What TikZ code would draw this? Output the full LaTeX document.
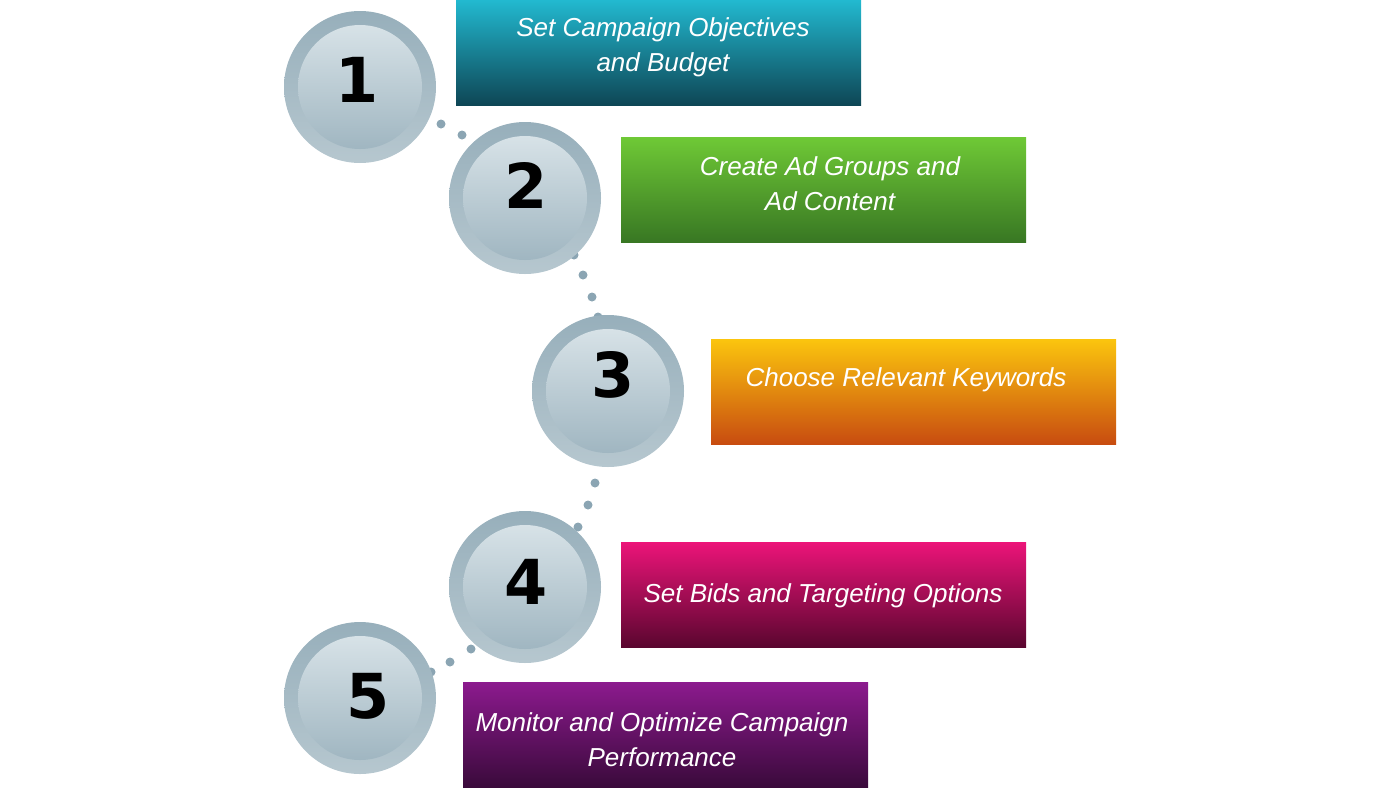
\documentclass[tikz,border=0pt]{standalone}
\usepackage{fontspec}
\setmainfont{Liberation Sans}
\newfontfamily\numfont{DejaVu Sans}
\definecolor{ringtop}{HTML}{97AFBB}
\definecolor{ringbot}{HTML}{B6C7CF}
\definecolor{disctop}{HTML}{D7E2E7}
\definecolor{discbot}{HTML}{A0B6C1}
\definecolor{dotc}{HTML}{8BA5B3}
\definecolor{tealT}{HTML}{22B9D0}
\definecolor{tealB}{HTML}{0E4655}
\definecolor{greenT}{HTML}{6FC936}
\definecolor{greenB}{HTML}{387723}
\definecolor{orangeT}{HTML}{FBC50E}
\definecolor{orangeB}{HTML}{C84C10}
\definecolor{pinkT}{HTML}{EC1479}
\definecolor{pinkB}{HTML}{5A062F}
\definecolor{purpT}{HTML}{8C1A8E}
\definecolor{purpB}{HTML}{3A0A3B}
\tikzset{
  ring/.style={circle, minimum size=152pt, inner sep=0pt, top color=ringtop, bottom color=ringbot, draw=none},
  disc/.style={circle, minimum size=124pt, inner sep=0pt, top color=disctop, bottom color=discbot, draw=none},
  digit/.style={font=\numfont\bfseries\fontsize{62}{62}\selectfont, text=black, inner sep=0pt},
  stepbox/.style={rectangle, minimum width=405pt, minimum height=105pt, inner sep=0pt, draw=none},
  label/.style={font=\itshape\fontsize{26}{35}\selectfont, text=white, align=center, inner sep=0pt},
  dot/.style={fill=dotc}
}
\begin{document}
\begin{tikzpicture}[x=1pt,y=-1pt]
\useasboundingbox (0,0) rectangle (1400,788);
% dots
\foreach \px/\py in {441/124, 462/135, 574/255, 583/275, 592/297, 598/317, 595/483, 588/505, 578/527, 471/649, 450/662, 431/672}
  \fill[dot] (\px,\py) circle (4.5);
% circles
\node[ring] (r1) at (360,87) {};
\node[disc] (c1) at (360,87) {};
\node[ring] (r2) at (525,198) {};
\node[disc] (c2) at (525,198) {};
\node[ring] (r3) at (608,391) {};
\node[disc] (c3) at (608,391) {};
\node[ring] (r4) at (525,587) {};
\node[disc] (c4) at (525,587) {};
\node[ring] (r5) at (360,698) {};
\node[disc] (c5) at (360,698) {};
\node[digit] (d1) at (357,80) {1};
\node[digit] (d2) at (526,185) {2};
\node[digit] (d3) at (613,375) {3};
\node[digit] (d4) at (526,582) {4};
\node[digit] (d5) at (368,696) {5};
% boxes
\node[stepbox, top color=tealT, bottom color=tealB] (b1) at (658.5,52.5) {};
\node[stepbox, top color=greenT, bottom color=greenB] (b2) at (823.5,189.5) {};
\node[stepbox, top color=orangeT, bottom color=orangeB] (b3) at (913.5,391.5) {};
\node[stepbox, top color=pinkT, bottom color=pinkB] (b4) at (823.5,594.5) {};
\node[stepbox, top color=purpT, bottom color=purpB] (b5) at (665.5,734.5) {};
% labels
\node[label] (t1) at (663,47.5) {Set Campaign Objectives\\and Budget};
\node[label] (t2) at (830,184) {Create Ad Groups and\\Ad Content};
\node[label] (t3) at (906,380) {Choose Relevant Keywords};
\node[label] (t4) at (823,596) {Set Bids and Targeting Options};
\node[label] (t5) at (662,740) {Monitor and Optimize Campaign\\Performance};
\end{tikzpicture}
\end{document}
